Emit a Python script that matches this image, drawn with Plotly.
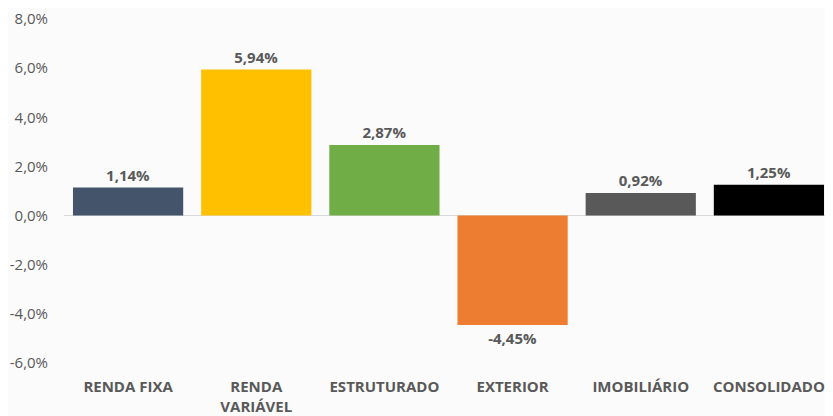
import plotly.graph_objects as go

# Rentabilidade por classe de ativo (%)
categories = ["RENDA FIXA", "RENDA<br>VARIÁVEL", "ESTRUTURADO", "EXTERIOR", "IMOBILIÁRIO", "CONSOLIDADO"]
returns_pct = [1.14, 5.94, 2.87, -4.45, 0.92, 1.25]
bar_colors = ["#44546A", "#FFC000", "#70AD47", "#ED7D31", "#595959", "#000000"]
y_ticks = [8, 6, 4, 2, 0, -2, -4, -6]
y_tick_text = ["8,0%", "6,0%", "4,0%", "2,0%", "0,0%", "-2,0%", "-4,0%", "-6,0%"]

label_font = "Open Sans, Liberation Sans, sans-serif"

fig = go.Figure(go.Bar(
    x=categories,
    y=returns_pct,
    marker=dict(color=bar_colors, line=dict(width=0)),
    texttemplate="<b>%{y:.2f}%</b>",
    textposition="outside",
    textfont=dict(family=label_font, size=15, color="#595959"),
    cliponaxis=False,
))

# the page body adds an 8px offset, so the figure is sized to fill what is left
fig.update_layout(
    width=825,
    height=408,
    margin=dict(l=56, r=0, t=11, b=53),
    paper_bgcolor="#fbfbfb",
    plot_bgcolor="#fbfbfb",
    bargap=0.14,
    separators=",.",
    showlegend=False,
    font=dict(family=label_font, color="#595959"),
)

fig.update_yaxes(
    range=[-6, 8],
    tickmode="array",
    tickvals=y_ticks,
    ticktext=y_tick_text,
    showgrid=False,
    zeroline=True,
    zerolinecolor="#d9d9d9",
    zerolinewidth=1,
    tickfont=dict(size=15, color="#595959"),
    ticklabelstandoff=15,
    automargin=False,
)

fig.update_xaxes(
    tickmode="array",
    tickvals=categories,
    ticktext=["<b>" + c + "</b>" for c in categories],
    tickfont=dict(size=15, color="#595959"),
    showgrid=False,
    showline=False,
    ticklabelstandoff=13,
    automargin=False,
)

fig.write_html("out.html")
